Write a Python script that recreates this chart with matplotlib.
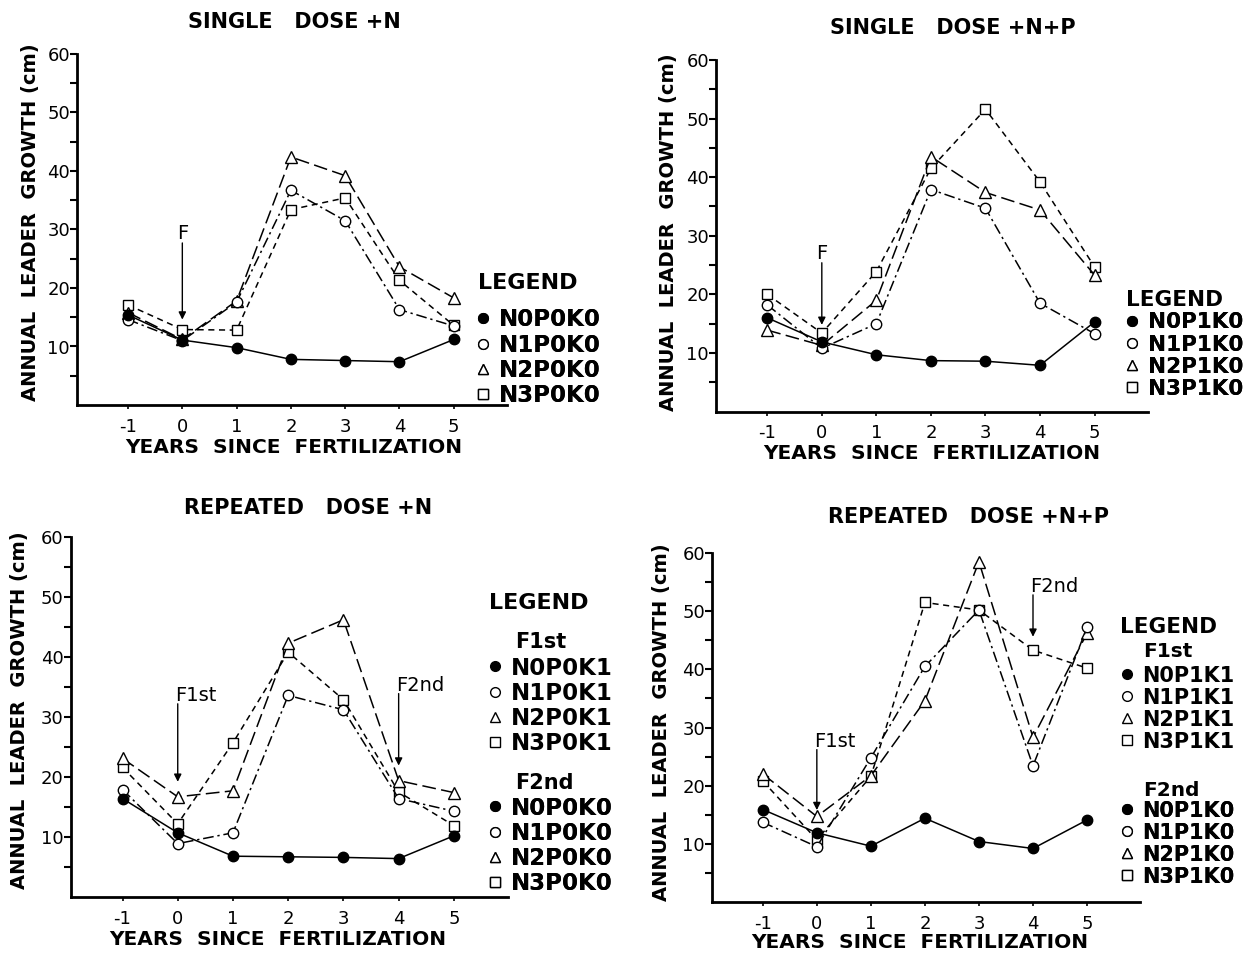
import numpy as np
import matplotlib.pyplot as plt
from matplotlib.lines import Line2D

plt.rcParams['font.family'] = 'DejaVu Sans'

years = [-1, 0, 1, 2, 3, 4, 5]

# single dose +N
sn_n0 = [15.4, 11.1, 9.8, 7.8, 7.6, 7.4, 11.2]
sn_n1 = [14.6, 11.0, 17.6, 36.7, 31.5, 16.3, 13.5]
sn_n2 = [15.8, 11.2, 17.8, 42.4, 39.2, 23.6, 18.3]
sn_n3 = [17.1, 12.9, 12.8, 33.4, 35.4, 21.3, 13.6]

# single dose +N+P
snp_n0 = [16.0, 11.9, 9.7, 8.7, 8.6, 7.9, 15.3]
snp_n1 = [18.2, 10.8, 15.0, 37.9, 34.7, 18.5, 13.3]
snp_n2 = [13.9, 11.3, 19.0, 43.5, 37.4, 34.4, 23.3]
snp_n3 = [20.0, 13.4, 23.9, 41.5, 51.6, 39.2, 24.7]

# repeated dose +N
rn_n0 = [16.4, 10.7, 6.8, 6.7, 6.6, 6.4, 10.2]
rn_n1 = [17.9, 8.9, 10.7, 33.6, 31.2, 16.4, 14.3]
rn_n2 = [23.1, 16.7, 17.7, 42.3, 46.2, 19.4, 17.4]
rn_n3 = [21.6, 12.2, 25.7, 40.8, 32.9, 17.5, 11.9]

# repeated dose +N+P
rnp_n0 = [15.9, 11.9, 9.6, 14.4, 10.4, 9.2, 14.1]
rnp_n1 = [13.7, 9.5, 24.8, 40.5, 50.2, 23.4, 47.2]
rnp_n2 = [22.0, 14.7, 21.7, 34.6, 58.5, 28.3, 46.2]
rnp_n3 = [20.8, 10.7, 21.6, 51.5, 50.2, 43.3, 40.2]

lab_sn = ['N0P0K0', 'N1P0K0', 'N2P0K0', 'N3P0K0']
lab_snp = ['N0P1K0', 'N1P1K0', 'N2P1K0', 'N3P1K0']
lab_rn_1st = ['N0P0K1', 'N1P0K1', 'N2P0K1', 'N3P0K1']
lab_rn_2nd = ['N0P0K0', 'N1P0K0', 'N2P0K0', 'N3P0K0']
lab_rnp_1st = ['N0P1K1', 'N1P1K1', 'N2P1K1', 'N3P1K1']
lab_rnp_2nd = ['N0P1K0', 'N1P1K0', 'N2P1K0', 'N3P1K0']

# fertilization arrows: (label, year, label y, arrow tip y)
arr_sn = [('F', 0, 29.3, 14.6)]
arr_snp = [('F', 0, 27.0, 14.8)]
arr_rn = [('F1st', 0, 33.6, 19.2), ('F2nd', 4, 35.3, 21.9)]
arr_rnp = [('F1st', 0, 27.6, 15.8), ('F2nd', 4, 54.2, 45.6)]

markers = ['o', 'o', '^', 's']
faces = ['black', 'white', 'white', 'white']
dashes = [None, (7, 2.5, 1.5, 2.5), (9, 3.5), (4, 3)]

W, H = 1255, 955
fig = plt.figure(figsize=(W / 100, H / 100), dpi=100)


def px_axes(x0, x1, y_top, y_bot):
    return fig.add_axes([x0 / W, 1 - y_bot / H, (x1 - x0) / W, (y_bot - y_top) / H])


def setup(ax, xl, yl):
    ax.set_xlim(-1.94, 5.98)
    ax.set_ylim(0, 60)
    for s in ['top', 'right']:
        ax.spines[s].set_visible(False)
    for s in ['left', 'bottom']:
        ax.spines[s].set_linewidth(2.0)
    ax.set_xticks(years)
    ax.set_xticklabels([str(y) for y in years])
    ax.set_yticks([10, 20, 30, 40, 50, 60])
    ax.set_yticks([5, 15, 25, 35, 45, 55], minor=True)
    ax.tick_params(axis='y', which='both', length=5, width=1.5, pad=0, labelsize=13)
    ax.tick_params(axis='x', length=3, width=1.2, pad=6, labelsize=13)
    ax.set_xlabel('YEARS  SINCE  FERTILIZATION', fontsize=14.5, fontweight='bold')
    ax.xaxis.set_label_coords(*xl)
    ax.xaxis.label.set_verticalalignment('center')
    ax.set_ylabel('ANNUAL  LEADER  GROWTH (cm)', fontsize=14, fontweight='bold')
    ax.yaxis.set_label_coords(*yl)
    ax.yaxis.label.set_verticalalignment('center')


def draw(ax, series):
    for i, ys in enumerate(series):
        line, = ax.plot(years, ys, color='black', lw=1.1, marker=markers[i],
                        ms=7.5 if markers[i] != '^' else 8, mfc=faces[i],
                        mec='black', mew=1.0, zorder=3 + (3 - i) * 0.1)
        if dashes[i] is not None:
            line.set_dashes(dashes[i])


def arrows(ax, items):
    for lab, x, ty, tip in items:
        if lab == 'F':
            ax.text(x, ty, lab, ha='center', va='center', fontsize=14)
            start = ty - 1.6
        else:
            ax.text(x - 0.05, ty, lab, ha='left', va='center', fontsize=14)
            start = ty - 1.4
        ax.annotate('', xy=(x, tip), xytext=(x, start),
                    arrowprops=dict(arrowstyle='-|>', color='black', lw=1.0,
                                    mutation_scale=11, shrinkA=0, shrinkB=0))


def handles():
    return [Line2D([], [], ls='none', marker=markers[i], mfc=faces[i], mec='black',
                   mew=1.0, ms=7 if markers[i] != '^' else 6.5, color='black')
            for i in range(4)]


def legend(ax, labels, x_marker, y_first, fs):
    # place so first row centre sits at y_first (pixels)
    leg = ax.legend(handles(), labels, loc='upper left',
                    bbox_to_anchor=((x_marker - 6) / W, 1 - (y_first - 12.5) / H),
                    bbox_transform=fig.transFigure, frameon=False,
                    prop={'weight': 'bold', 'size': fs}, handlelength=0.6,
                    handletextpad=0.4, labelspacing=0.1, borderpad=0,
                    borderaxespad=0)
    ax.add_artist(leg)


# panel 1
ax1 = px_axes(77, 507, 54, 405)
setup(ax1, (0.505, -0.12), (-0.109, 0.52))
draw(ax1, [sn_n0, sn_n1, sn_n2, sn_n3])
arrows(ax1, arr_sn)
fig.text(294 / W, 1 - 22 / H, 'SINGLE   DOSE +N', ha='center', va='center',
         fontsize=15, fontweight='bold')
fig.text(478 / W, 1 - 283 / H, 'LEGEND', ha='left', va='center', fontsize=16,
         fontweight='bold')
legend(ax1, lab_sn, 482, 321, 16.5)

# panel 2
ax2 = px_axes(716, 1148, 60, 411.6)
setup(ax2, (0.5, -0.118), (-0.111, 0.51))
draw(ax2, [snp_n0, snp_n1, snp_n2, snp_n3])
arrows(ax2, arr_snp)
fig.text(953 / W, 1 - 28 / H, 'SINGLE   DOSE +N+P', ha='center', va='center',
         fontsize=15, fontweight='bold')
fig.text(1126 / W, 1 - 300 / H, 'LEGEND', ha='left', va='center', fontsize=15.5,
         fontweight='bold')
legend(ax2, lab_snp, 1132, 325, 15.5)

# panel 3
ax3 = px_axes(70.6, 508, 537, 897)
setup(ax3, (0.474, -0.119), (-0.116, 0.52))
draw(ax3, [rn_n0, rn_n1, rn_n2, rn_n3])
arrows(ax3, arr_rn)
fig.text(308 / W, 1 - 508 / H, 'REPEATED   DOSE +N', ha='center', va='center',
         fontsize=15, fontweight='bold')
fig.text(489 / W, 1 - 603 / H, 'LEGEND', ha='left', va='center', fontsize=16,
         fontweight='bold')
fig.text(515 / W, 1 - 642 / H, 'F1st', ha='left', va='center', fontsize=15,
         fontweight='bold')
legend(ax3, lab_rn_1st, 494, 669, 16.5)
fig.text(515 / W, 1 - 783 / H, 'F2nd', ha='left', va='center', fontsize=15,
         fontweight='bold')
legend(ax3, lab_rn_2nd, 494, 809, 16.5)

# panel 4
ax4 = px_axes(712, 1140, 553, 902)
setup(ax4, (0.486, -0.117), (-0.117, 0.516))
draw(ax4, [rnp_n0, rnp_n1, rnp_n2, rnp_n3])
arrows(ax4, arr_rnp)
fig.text(969 / W, 1 - 517 / H, 'REPEATED   DOSE +N+P', ha='center', va='center',
         fontsize=15, fontweight='bold')
fig.text(1120 / W, 1 - 627 / H, 'LEGEND', ha='left', va='center', fontsize=15.5,
         fontweight='bold')
fig.text(1143 / W, 1 - 651 / H, 'F1st', ha='left', va='center', fontsize=14.5,
         fontweight='bold')
legend(ax4, lab_rnp_1st, 1127, 678, 15)
fig.text(1143 / W, 1 - 790 / H, 'F2nd', ha='left', va='center', fontsize=14.5,
         fontweight='bold')
legend(ax4, lab_rnp_2nd, 1127, 813, 15)

fig.savefig('out.png', dpi=100)
